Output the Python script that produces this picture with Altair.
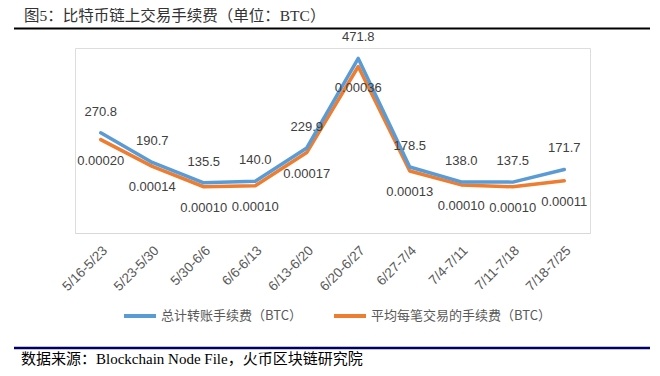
import altair as alt
import pandas as pd

weeks = ["5/16-5/23", "5/23-5/30", "5/30-6/6", "6/6-6/13", "6/13-6/20",
         "6/20-6/27", "6/27-7/4", "7/4-7/11", "7/11-7/18", "7/18-7/25"]
total_fee = [270.8, 190.7, 135.5, 140.0, 229.9, 471.8, 178.5, 138.0, 137.5, 171.7]
avg_fee = [0.000202, 0.000144, 0.000100, 0.000102, 0.000174,
           0.000360, 0.000134, 0.000104, 0.000100, 0.000113]
series_names = ["总计转账手续费（BTC）", "平均每笔交易的手续费（BTC）"]
series_colors = ["#5B9BD5", "#ED7D31"]
title_text = "图5：比特币链上交易手续费（单位：BTC）"
source_text = "数据来源：Blockchain Node File，火币区块链研究院"

df = pd.DataFrame({"week": weeks, "total": total_fee, "avg": avg_fee})
one = pd.DataFrame({"k": [0]})

CJK = "Noto Sans CJK SC"
SERIF = "Liberation Serif, Noto Sans CJK SC"
LABEL_FONT = "Liberation Sans, Noto Sans CJK SC"

x_enc = alt.X("week:O", sort=weeks, scale=alt.Scale(type="point", padding=0.5),
              axis=alt.Axis(title=None, labelAngle=-45, labelAlign="right", labelBaseline="middle",
                            labelFontSize=13.5, labelColor="#595959",
                            labelFont=LABEL_FONT, ticks=False, domainColor="#D9D9D9",
                            domainWidth=1, grid=False, labelPadding=15, labelOffset=4))

color_scale = alt.Scale(domain=series_names, range=series_colors)
legend = alt.Legend(title=None, orient="none", legendX=47, legendY=250, direction="horizontal",
                    symbolType="stroke", symbolStrokeWidth=4, symbolSize=1024,
                    labelFontSize=13, labelColor="#595959", labelFont=CJK, labelLimit=300,
                    columnPadding=24, labelOffset=3)
color_enc = alt.Color("series:N", scale=color_scale, legend=legend)

y_total = alt.Y("total:Q", scale=alt.Scale(domain=[0, 500], nice=False, zero=True), axis=None)
y_avg = alt.Y("avg:Q", scale=alt.Scale(domain=[0, 0.0004], nice=False, zero=True), axis=None)

base = alt.Chart(df)

line_avg = base.transform_calculate(series=f"'{series_names[1]}'").mark_line(
    strokeWidth=3.5, strokeJoin="round", strokeCap="round").encode(
    x=x_enc, y=y_avg, color=color_enc)
line_total = base.transform_calculate(series=f"'{series_names[0]}'").mark_line(
    strokeWidth=3.5, strokeJoin="round", strokeCap="round").encode(
    x=x_enc, y=y_total, color=color_enc)

text_total = base.mark_text(dy=-21, fontSize=13, color="#404040", font=LABEL_FONT).encode(
    x=x_enc, y=y_total, text=alt.Text("total:Q", format=".1f"))
text_avg = base.mark_text(dy=21, fontSize=13, color="#404040", font=LABEL_FONT).encode(
    x=x_enc, y=y_avg, text=alt.Text("avg:Q", format=".5f"))

title_mark = alt.Chart(one).mark_text(align="left", baseline="middle", fontSize=15.5,
                                      color="#333333", font=SERIF).encode(
    x=alt.value(-51), y=alt.value(-32), text=alt.value(title_text))
top_rule = alt.Chart(one).mark_rule(color="#000000", strokeWidth=2).encode(
    x=alt.value(-61), x2=alt.value(575), y=alt.value(-19.5))
bottom_rule = alt.Chart(one).mark_rule(color="#000066", strokeWidth=2.5).encode(
    x=alt.value(-61), x2=alt.value(575), y=alt.value(300))
source_mark = alt.Chart(one).mark_text(align="left", baseline="middle", fontSize=15,
                                       color="#000000", font=SERIF).encode(
    x=alt.value(-54), y=alt.value(311), text=alt.value(source_text))

chart = alt.layer(
    line_avg, line_total, text_total, text_avg,
    title_mark, top_rule, bottom_rule, source_mark
).resolve_scale(y="independent").properties(
    width=515, height=185,
    autosize=alt.AutoSizeParams(type="none"),
    padding={"left": 67, "top": 40, "right": 62, "bottom": 135},
).configure_view(stroke=None).configure(background="white")

chart.save("out.html", embed_options={"renderer": "svg", "actions": False})
